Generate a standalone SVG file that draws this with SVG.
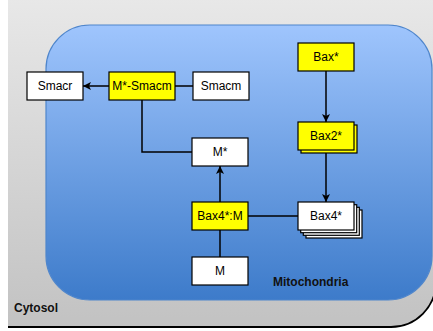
<svg xmlns="http://www.w3.org/2000/svg" width="433" height="331" viewBox="0 0 433 331">
<defs>
<linearGradient id="gGray" x1="0" y1="0" x2="0" y2="1">
<stop offset="0" stop-color="#e8e8e8"/>
<stop offset="1" stop-color="#c2c2c2"/>
</linearGradient>
<linearGradient id="gBlue" x1="0" y1="0" x2="0" y2="1">
<stop offset="0" stop-color="#9fc5fd"/>
<stop offset="1" stop-color="#3d7bca"/>
</linearGradient>
<marker id="arr" markerUnits="userSpaceOnUse" markerWidth="10" markerHeight="10" viewBox="0 0 10 10" refX="9" refY="5" orient="auto">
<path d="M1,1 L9,5 L1,9 L3,5 z" fill="#000"/>
</marker>
</defs>
<style>
.node{stroke:#000;stroke-width:1.2}
.w{fill:#fff}
.y{fill:#ffff00}
.lbl{font-family:"Liberation Sans",Arial,sans-serif;font-size:12px;fill:#000;text-anchor:middle}
.cmp{font-family:"Liberation Sans",Arial,sans-serif;font-size:12px;font-weight:bold;fill:#111}
.edge{stroke:#000;stroke-width:1.5;fill:none}
</style>
<g id="cytosol">
<path d="M8,-2 L8,327 L391,327 A45,45 0 0 0 436,282 L436,-2 Z" fill="url(#gGray)"/>
<path d="M8,327 L391,327 A45,45 0 0 0 436,282" fill="none" stroke="#000" stroke-width="1.8"/>
<text class="cmp" x="14" y="312">Cytosol</text>
</g>
<g id="mitochondria">
<rect x="46" y="25" width="386" height="275" rx="44" fill="url(#gBlue)" stroke="#4f86cc" stroke-width="1.2"/>
<text class="cmp" x="273" y="286">Mitochondria</text>
</g>
<g id="connectors">
<line class="edge" x1="109" y1="86" x2="83" y2="86" marker-end="url(#arr)"/>
<line class="edge" x1="193" y1="86" x2="175" y2="86"/>
<polyline class="edge" points="142,100 142,152 192,152"/>
<line class="edge" x1="220" y1="202" x2="220" y2="166" marker-end="url(#arr)"/>
<line class="edge" x1="220" y1="257" x2="220" y2="230"/>
<line class="edge" x1="298" y1="216" x2="248" y2="216"/>
<line class="edge" x1="326" y1="71" x2="326" y2="122" marker-end="url(#arr)"/>
<line class="edge" x1="326" y1="150" x2="326" y2="202" marker-end="url(#arr)"/>
</g>
<g id="node-smacr">
<rect class="node w" x="27" y="72" width="56" height="28"/>
<text class="lbl" x="55" y="90">Smacr</text>
</g>
<g id="node-msmacm">
<rect class="node y" x="109" y="72" width="66" height="28"/>
<text class="lbl" x="142" y="90">M*-Smacm</text>
</g>
<g id="node-smacm">
<rect class="node w" x="193" y="72" width="56" height="28"/>
<text class="lbl" x="221" y="90">Smacm</text>
</g>
<g id="node-bax">
<rect class="node y" x="298" y="43" width="56" height="28"/>
<text class="lbl" x="326" y="61">Bax*</text>
</g>
<g id="node-bax2">
<rect class="node y" x="301" y="125" width="56" height="28"/>
<rect class="node y" x="298" y="122" width="56" height="28"/>
<text class="lbl" x="326" y="140">Bax2*</text>
</g>
<g id="node-mstar">
<rect class="node w" x="192" y="138" width="56" height="28"/>
<text class="lbl" x="220" y="156">M*</text>
</g>
<g id="node-bax4m">
<rect class="node y" x="192" y="202" width="56" height="28"/>
<text class="lbl" x="220" y="220">Bax4*:M</text>
</g>
<g id="node-bax4">
<rect class="node w" x="306" y="210" width="56" height="28"/>
<rect class="node w" x="303.3" y="207.3" width="56" height="28"/>
<rect class="node w" x="300.7" y="204.7" width="56" height="28"/>
<rect class="node w" x="298" y="202" width="56" height="28"/>
<text class="lbl" x="326" y="220">Bax4*</text>
</g>
<g id="node-m">
<rect class="node w" x="192" y="257" width="56" height="28"/>
<text class="lbl" x="220" y="275">M</text>
</g>
</svg>
